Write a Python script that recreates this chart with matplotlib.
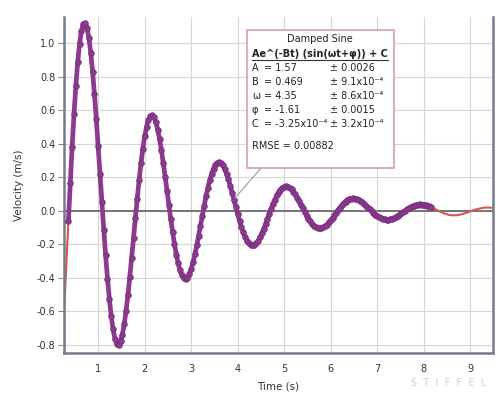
import numpy as np
import matplotlib
matplotlib.use("Agg")
import matplotlib.pyplot as plt
from matplotlib.patches import Rectangle
from matplotlib.lines import Line2D

plt.rcParams["axes.unicode_minus"] = False
plt.rcParams["font.family"] = ["DejaVu Sans"]

# ---- data -----------------------------------------------------------------
# fitted curve (red), sampled every 0.05 s from 0.25 s to 9.50 s
fit_t_start, fit_t_step = 0.25, 0.05
fit_velocity = [
    -0.697, -0.41, -0.117, 0.168, 0.433, 0.665, 0.855, 0.997, 1.086, 1.12,
    1.1, 1.031, 0.916, 0.764, 0.583, 0.384, 0.175, -0.032, -0.228, -0.404,
    -0.554, -0.671, -0.751, -0.793, -0.796, -0.761, -0.693, -0.596, -0.475, -0.338,
    -0.192, -0.043, 0.101, 0.234, 0.349, 0.443, 0.513, 0.555, 0.569, 0.556,
    0.518, 0.457, 0.378, 0.285, 0.183, 0.077, -0.028,
    -0.126, -0.215, -0.289, -0.346, -0.385, -0.404, -0.403, -0.384, -0.347, -0.297,
    -0.234, -0.164, -0.089, -0.014, 0.059, 0.126, 0.183, 0.23, 0.263, 0.283,
    0.289, 0.281, 0.26, 0.228, 0.187, 0.139, 0.087, 0.033, -0.02, -0.07,
    -0.114, -0.151, -0.179, -0.197, -0.206, -0.204, -0.193, -0.174, -0.148, -0.115,
    -0.079, -0.041, -0.003, 0.034, 0.067, 0.096, 0.119, 0.135, 0.144, 0.146,
    0.142, 0.13, 0.114, 0.092, 0.068, 0.041, 0.014, -0.013, -0.038, -0.06,
    -0.078, -0.092, -0.101, -0.105, -0.104, -0.098, -0.087, -0.073, -0.057, -0.038,
    -0.019, 0.001, 0.019, 0.036, 0.05, 0.061, 0.069, 0.073, 0.074, 0.071,
    0.065, 0.056, 0.045, 0.033, 0.019, 0.005, -0.008, -0.021, -0.032, -0.041,
    -0.048, -0.052, -0.053, -0.053, -0.049, -0.044, -0.037, -0.028, -0.019, -0.009,
    0.001, 0.01, 0.019, 0.026, 0.031, 0.035, 0.037, 0.037, 0.036, 0.033,
    0.028, 0.022, 0.016, 0.009, 0.002, -0.005, -0.011, -0.017, -0.021, -0.025,
    -0.027, -0.027, -0.027, -0.025, -0.022, -0.018, -0.014, -0.009, -0.004, 0.001,
    0.006, 0.01, 0.013, 0.016, 0.018, 0.019, 0.019, 0.018, 0.016,
]

# measured velocity (purple dots), sampled every 0.04 s from 0.36 s to 8.16 s
meas_t_start, meas_t_step = 0.36, 0.04
measured_velocity = [
    -0.059, 0.168, 0.382, 0.576, 0.746, 0.887, 0.997, 1.072, 1.113, 1.118,
    1.09, 1.031, 0.942, 0.829, 0.694, 0.544, 0.384, 0.217, 0.05, -0.112,
    -0.265, -0.404, -0.526, -0.628, -0.707, -0.762, -0.793, -0.798, -0.779, -0.738,
    -0.676, -0.596, -0.501, -0.395, -0.28, -0.162, -0.043, 0.073, 0.182, 0.282,
    0.37, 0.443, 0.501, 0.541, 0.564, 0.568,
    0.556, 0.528, 0.484, 0.428, 0.361, 0.285, 0.204, 0.12, 0.035, -0.048,
    -0.126, -0.198, -0.261, -0.314, -0.356, -0.385, -0.402, -0.406, -0.398, -0.378,
    -0.347, -0.308, -0.26, -0.207, -0.149, -0.089, -0.029, 0.031, 0.087, 0.138,
    0.183, 0.221, 0.251, 0.273, 0.285, 0.289, 0.283, 0.27, 0.248, 0.22,
    0.187, 0.149, 0.108, 0.065, 0.022, -0.02, -0.06, -0.097, -0.129, -0.157,
    -0.179, -0.194, -0.204, -0.206, -0.203, -0.193, -0.179, -0.159, -0.135, -0.108,
    -0.079, -0.049, -0.018, 0.012, 0.041, 0.067, 0.091, 0.11, 0.126, 0.137,
    0.144, 0.147, 0.144, 0.138, 0.127, 0.114, 0.097, 0.078, 0.057, 0.035,
    0.014, -0.008, -0.029, -0.047, -0.064, -0.078, -0.09, -0.098, -0.103, -0.105,
    -0.104, -0.099, -0.092, -0.082, -0.07, -0.057, -0.042, -0.027, -0.011, 0.004,
    0.019, 0.033, 0.045, 0.055, 0.063, 0.069, 0.073, 0.074, 0.073, 0.07,
    0.065, 0.058, 0.05, 0.04, 0.03, 0.019, 0.008, -0.003, -0.014, -0.023,
    -0.032, -0.039, -0.045, -0.05, -0.052, -0.053, -0.053, -0.051, -0.047, -0.042,
    -0.037, -0.03, -0.022, -0.015, -0.007, 0.001, 0.009, 0.016, 0.022, 0.027,
    0.031, 0.035, 0.037, 0.038, 0.037, 0.036, 0.033, 0.03, 0.026, 0.021,
]

x_ticks = [1, 2, 3, 4, 5, 6, 7, 8, 9]
y_ticks = [1.0, 0.8, 0.6, 0.4, 0.2, 0.0, -0.2, -0.4, -0.6, -0.8]
y_tick_labels = ["1.0", "0.8", "0.6", "0.4", "0.2", "0.0", "-0.2", "-0.4", "-0.6", "-0.8"]

legend_title = "Damped Sine"
legend_formula = "Ae^(-Bt) (sin(ωt+φ)) + C"
param_names = ["A", "B", "ω", "φ", "C"]
param_values = ["1.57", "0.469", "4.35", "-1.61", "-3.25x10⁻⁴"]
param_errors = ["0.0026", "9.1x10⁻⁴", "8.6x10⁻⁴", "0.0015", "3.2x10⁻⁴"]
rmse_text = "RMSE = 0.00882"

# ---- figure ---------------------------------------------------------------
fit_t = fit_t_start + fit_t_step * np.arange(len(fit_velocity))
meas_t = meas_t_start + meas_t_step * np.arange(len(measured_velocity))

W_PX, H_PX = 500, 395
fig = plt.figure(figsize=(5, 3.95), dpi=100)
ax = fig.add_axes([64 / W_PX, 1 - 353 / H_PX, (493 - 64) / W_PX, (353 - 17) / H_PX])
ax.set_xlim(0.265, 9.49)
ax.set_ylim(-0.848, 1.155)
ax.set_xticks(x_ticks)
ax.set_yticks(y_ticks)
ax.set_yticklabels(y_tick_labels)
ax.grid(True, color="#d6d6d6", lw=0.8, zorder=0)
ax.set_axisbelow(True)
ax.axhline(0, color="#6b6b6b", lw=1.3, zorder=1)
ax.plot(fit_t, fit_velocity, color="#d9534f", lw=1.5, zorder=2)
ax.plot(meas_t, measured_velocity, color="#8b3a8e", lw=3.4, marker="o", ms=4.0,
        mfc="#8b3a8e", mec="#7a2f80", mew=0.6, zorder=3)
for s in ["left", "bottom", "right"]:
    ax.spines[s].set_color("#767b8c")
    ax.spines[s].set_linewidth(1.8)
ax.spines["top"].set_visible(False)
ax.tick_params(axis="y", length=4, width=0.8, color="#888888", labelsize=7,
               labelcolor="#333333", pad=2)
ax.tick_params(axis="x", length=0, labelsize=7, labelcolor="#333333", pad=8)
ax.set_xlabel("Time (s)", fontsize=7.5, color="#333333", labelpad=5)
ax.set_ylabel("Velocity (m/s)", fontsize=7.5, color="#333333", labelpad=9)


def fx(px):
    return px / W_PX


def fy(py):
    return 1 - py / H_PX


# legend box
box = Rectangle((fx(246.5), fy(168)), fx(393.5) - fx(246.5), fy(29.5) - fy(168),
                transform=fig.transFigure, facecolor="white", edgecolor="#d9a0a0",
                lw=1.2, zorder=10)
fig.add_artist(box)

# pointer line from the box to the curve
ax.annotate("", xy=(3.94, 0.075), xycoords="data",
            xytext=(fx(261), fy(168)), textcoords="figure fraction",
            arrowprops=dict(arrowstyle="-", color="#9a9a9a", lw=0.8,
                            shrinkA=0, shrinkB=0), zorder=9)

tc = "#222222"
fig.text(fx(320), fy(39), legend_title, ha="center", va="center", fontsize=7,
         color=tc, zorder=11)
fig.text(fx(252), fy(54), legend_formula, ha="left", va="center", fontsize=7,
         fontweight="bold", color=tc, zorder=11)
fig.add_artist(Line2D([fx(252), fx(388)], [fy(59.5), fy(59.5)], color="#333333",
                      lw=0.8, zorder=11))
row_y = [67.7, 81.7, 96, 110, 124.3]
for name, val, err, yy in zip(param_names, param_values, param_errors, row_y):
    fig.text(fx(252), fy(yy), name, ha="left", va="center", fontsize=7, color=tc, zorder=11)
    fig.text(fx(264.5), fy(yy), "= " + val, ha="left", va="center", fontsize=7,
             color=tc, zorder=11)
    fig.text(fx(330.5), fy(yy), "± " + err, ha="left", va="center", fontsize=7,
             color=tc, zorder=11)
fig.text(fx(252), fy(146), rmse_text, ha="left", va="center", fontsize=7, color=tc,
         zorder=11)

# watermark
fig.text(fx(449), fy(383), "S  T  I  F  F  E  L", ha="center", va="center", fontsize=7,
         color="#d0d0d0")

fig.savefig("out.png")
